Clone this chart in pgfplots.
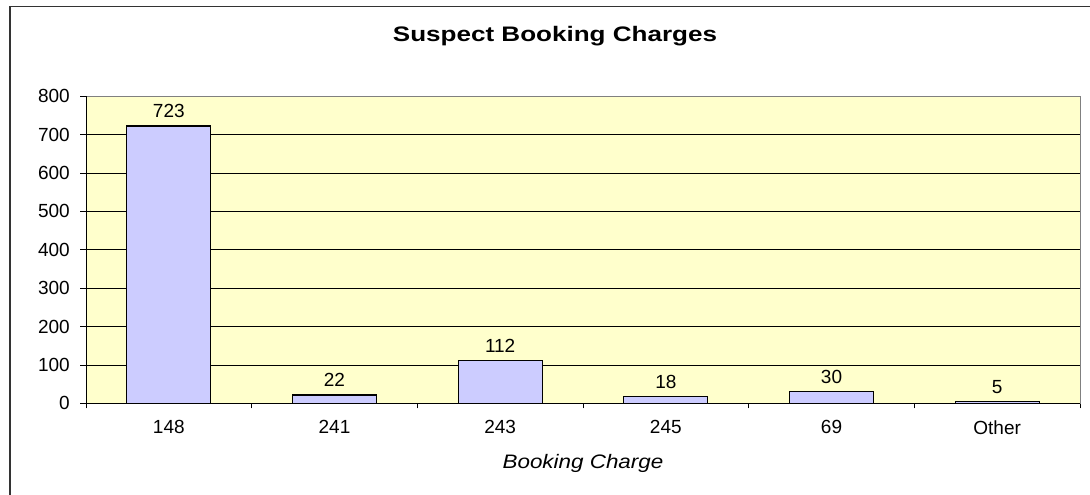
\documentclass[border=0pt]{standalone}
\usepackage{fontspec}
\setmainfont{Liberation Sans}
\newfontfamily\titlefont[FakeStretch=1.24]{Liberation Sans}
\newfontfamily\labelfont[FakeStretch=1.15]{Liberation Sans}
\usepackage{pgfplots}
\pgfplotsset{compat=1.18}
\definecolor{bg}{HTML}{FFFFCC}
\definecolor{barc}{HTML}{CCCCFF}
\begin{document}
\begin{tikzpicture}
\useasboundingbox (0,0) rectangle (1090bp,495bp);
\draw[line width=1.5bp, black!80] (10bp,0) -- (10bp,488.5bp) -- (1090bp,488.5bp);
\begin{axis}[
  at={(86bp,91.7bp)}, anchor=south west,
  scale only axis, width=994bp, height=307bp,
  axis background/.style={fill=bg},
  axis line style={draw=gray, line width=0.8bp},
  xmin=-0.5, xmax=5.5, ymin=0, ymax=800,
  ytick={0,100,...,800},
  xtick={0,...,5},
  xticklabels={148,241,243,245,69,Other},
  minor xtick={-0.5,0.5,...,5.5},
  major x tick style={draw=none},
  xtick pos=bottom, ytick pos=left,
  tick align=outside,
  major tick length=6bp, minor tick length=5bp,
  tick style={black, line width=0.8bp},
  ymajorgrids, major grid style={black, line width=0.7bp},
  /pgf/number format/assume math mode=true,
  tick label style={font=\fontsize{19bp}{22bp}\selectfont},
  yticklabel style={anchor=east, inner sep=0pt, xshift=-10bp},
  xticklabel style={anchor=center, inner sep=0pt, yshift=-18bp},
  title={Suspect Booking Charges},
  title style={font=\fontsize{21bp}{25bp}\titlefont\bfseries, at={(0.5,1)}, anchor=center, yshift=54bp, xshift=-28bp},
  xlabel={Booking Charge},
  xlabel style={font=\fontsize{19.5bp}{22bp}\labelfont\itshape, at={(0.5,0)}, anchor=center, yshift=-60bp},
  ybar, bar width=84bp,
  nodes near coords,
  every node near coord/.append style={font=\fontsize{19bp}{22bp}\selectfont, yshift=4bp},
]
\addplot[fill=barc, draw=black, line width=1.3bp] coordinates {(0,723) (1,22) (2,112) (3,18) (4,30) (5,5)};
\end{axis}
\draw[black, line width=0.9bp] (86bp,91.7bp) -- (86bp,398.7bp);
\draw[black, line width=0.9bp] (86bp,91.7bp) -- (1080bp,91.7bp);
\end{tikzpicture}
\end{document}
